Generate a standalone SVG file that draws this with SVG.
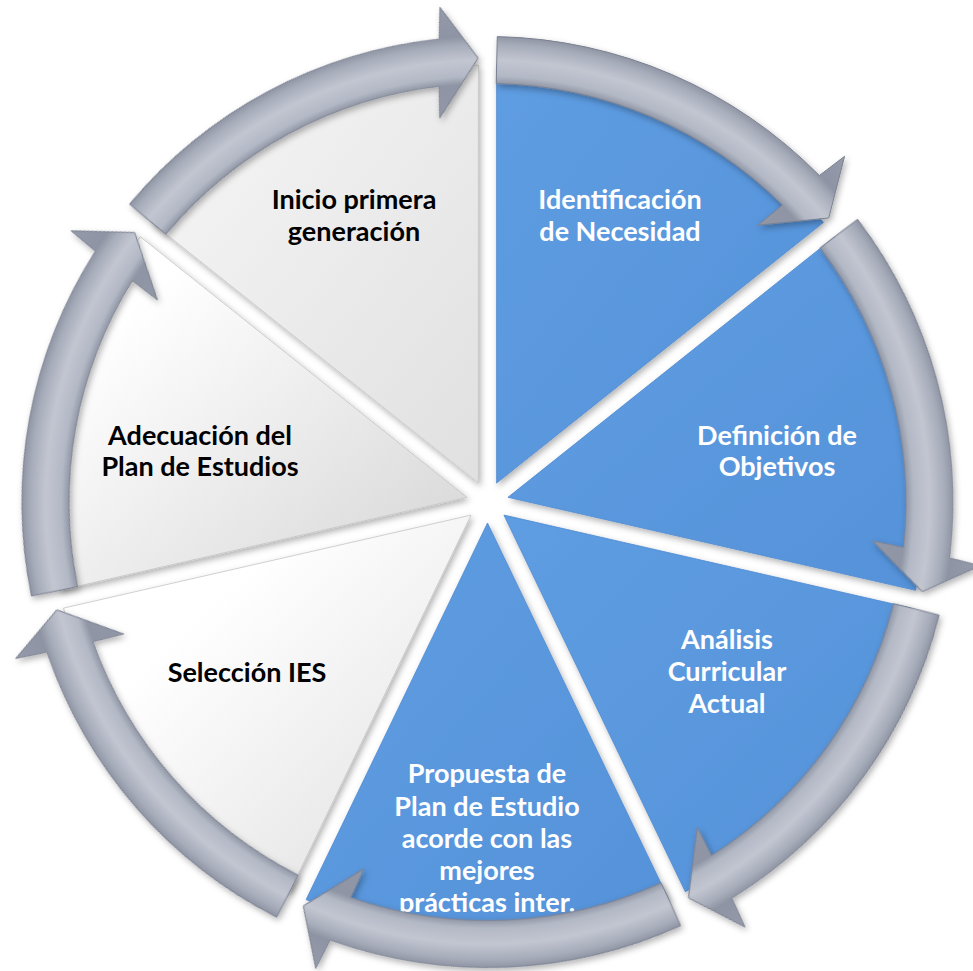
<svg xmlns="http://www.w3.org/2000/svg" xmlns:xlink="http://www.w3.org/1999/xlink" width="973" height="971" viewBox="0 0 973 971">
<defs>
<style>
.t{font-family:Lato,"Liberation Sans",sans-serif;font-weight:bold;font-size:27px;text-anchor:middle}
.w{fill:#ffffff}
.k{fill:#000000}
.blue{fill:url(#gb);stroke:#4f8ad0;stroke-width:0.8}
.grey{stroke:#c4c4c4;stroke-width:0.8}
.arr{fill:url(#ga);stroke:#7c8191;stroke-width:1}
</style>
<filter id="sh" x="-10%" y="-10%" width="125%" height="125%">
<feDropShadow dx="2" dy="3" stdDeviation="3" flood-color="#000" flood-opacity="0.3"/>
</filter>
<linearGradient id="gb" x1="0" y1="0" x2="1" y2="1">
<stop offset="0" stop-color="#5e9de2"/>
<stop offset="1" stop-color="#5692d9"/>
</linearGradient>
<linearGradient id="g6" x1="0" y1="0" x2="1" y2="1">
<stop offset="0" stop-color="#f7f7f7"/>
<stop offset="1" stop-color="#e0e0e0"/>
</linearGradient>
<linearGradient id="g5" x1="0" y1="0" x2="1" y2="1">
<stop offset="0.2" stop-color="#ffffff"/>
<stop offset="1" stop-color="#d4d4d4"/>
</linearGradient>
<linearGradient id="g4" x1="0" y1="0" x2="1" y2="1">
<stop offset="0.3" stop-color="#ffffff"/>
<stop offset="1" stop-color="#dedede"/>
</linearGradient>
<radialGradient id="ga" gradientUnits="userSpaceOnUse" cx="487.5" cy="502" r="500">
<stop offset="0.77" stop-color="#9197a6"/>
<stop offset="0.836" stop-color="#8f95a4"/>
<stop offset="0.852" stop-color="#b3b8c5"/>
<stop offset="0.884" stop-color="#c2c6d1"/>
<stop offset="0.915" stop-color="#a7acba"/>
<stop offset="0.932" stop-color="#8e94a3"/>
<stop offset="1" stop-color="#959baa"/>
</radialGradient>
<path id="arrow" d="M 497.25 36.60 A 465.5 465.5 0 0 1 819.35 175.54 L 844.58 156.31 L 828.76 217.96 L 757.92 225.16 L 782.33 204.99 A 418.5 418.5 0 0 0 496.26 83.59 Z"/>
</defs>

<g id="node-identificacion">
<path class="blue" filter="url(#sh)" d="M 496.61 483.08 L 496.61 65.08 A 418 418 0 0 1 823.42 222.46 Z"/>
<text class="t w" x="620" y="209">Identificación</text>
<text class="t w" x="620" y="241">de Necesidad</text>
</g>
<g id="node-definicion">
<path class="blue" filter="url(#sh)" d="M 507.97 497.33 L 834.78 236.71 A 418 418 0 0 1 915.49 590.34 Z"/>
<text class="t w" x="777" y="445">Definición de</text>
<text class="t w" x="777" y="476">Objetivos</text>
</g>
<g id="node-analisis">
<path class="blue" filter="url(#sh)" d="M 503.92 515.09 L 911.44 608.10 A 418 418 0 0 1 685.28 891.70 Z"/>
<text class="t w" x="727" y="649">Análisis</text>
<text class="t w" x="727" y="681">Curricular</text>
<text class="t w" x="727" y="713">Actual</text>
</g>
<g id="node-propuesta">
<path class="blue" filter="url(#sh)" d="M 487.5 523 L 668.86 899.61 A 418 418 0 0 1 306.14 899.61 Z"/>
<text class="t w" x="487" y="783">Propuesta de</text>
<text class="t w" x="487" y="816">Plan de Estudio</text>
<text class="t w" x="487" y="848">acorde con las</text>
<text class="t w" x="487" y="880">mejores</text>
<text class="t w" x="487" y="912">prácticas inter.</text>
</g>
<g id="node-seleccion">
<path class="grey" fill="url(#g4)" filter="url(#sh)" d="M 471.08 515.09 L 289.72 891.70 A 418 418 0 0 1 63.56 608.10 Z"/>
<text class="t k" x="247" y="682">Selección IES</text>
</g>
<g id="node-adecuacion">
<path class="grey" fill="url(#g5)" filter="url(#sh)" d="M 467.03 497.33 L 59.51 590.34 A 418 418 0 0 1 140.22 236.71 Z"/>
<text class="t k" x="200" y="445">Adecuación del</text>
<text class="t k" x="200" y="476">Plan de Estudios</text>
</g>
<g id="node-inicio">
<path class="grey" fill="url(#g6)" filter="url(#sh)" d="M 478.39 483.08 L 151.58 222.46 A 418 418 0 0 1 478.39 65.08 Z"/>
<text class="t k" x="354" y="209">Inicio primera</text>
<text class="t k" x="354" y="241">generación</text>
</g>

<g id="connectors" filter="url(#sh)">
<use xlink:href="#arrow" href="#arrow" class="arr"/>
<use xlink:href="#arrow" href="#arrow" class="arr" transform="rotate(51.428571 487.5 502)"/>
<use xlink:href="#arrow" href="#arrow" class="arr" transform="rotate(102.857143 487.5 502)"/>
<use xlink:href="#arrow" href="#arrow" class="arr" transform="rotate(154.285714 487.5 502)"/>
<use xlink:href="#arrow" href="#arrow" class="arr" transform="rotate(205.714286 487.5 502)"/>
<use xlink:href="#arrow" href="#arrow" class="arr" transform="rotate(257.142857 487.5 502)"/>
<use xlink:href="#arrow" href="#arrow" class="arr" transform="rotate(308.571429 487.5 502)"/>
</g>
</svg>
